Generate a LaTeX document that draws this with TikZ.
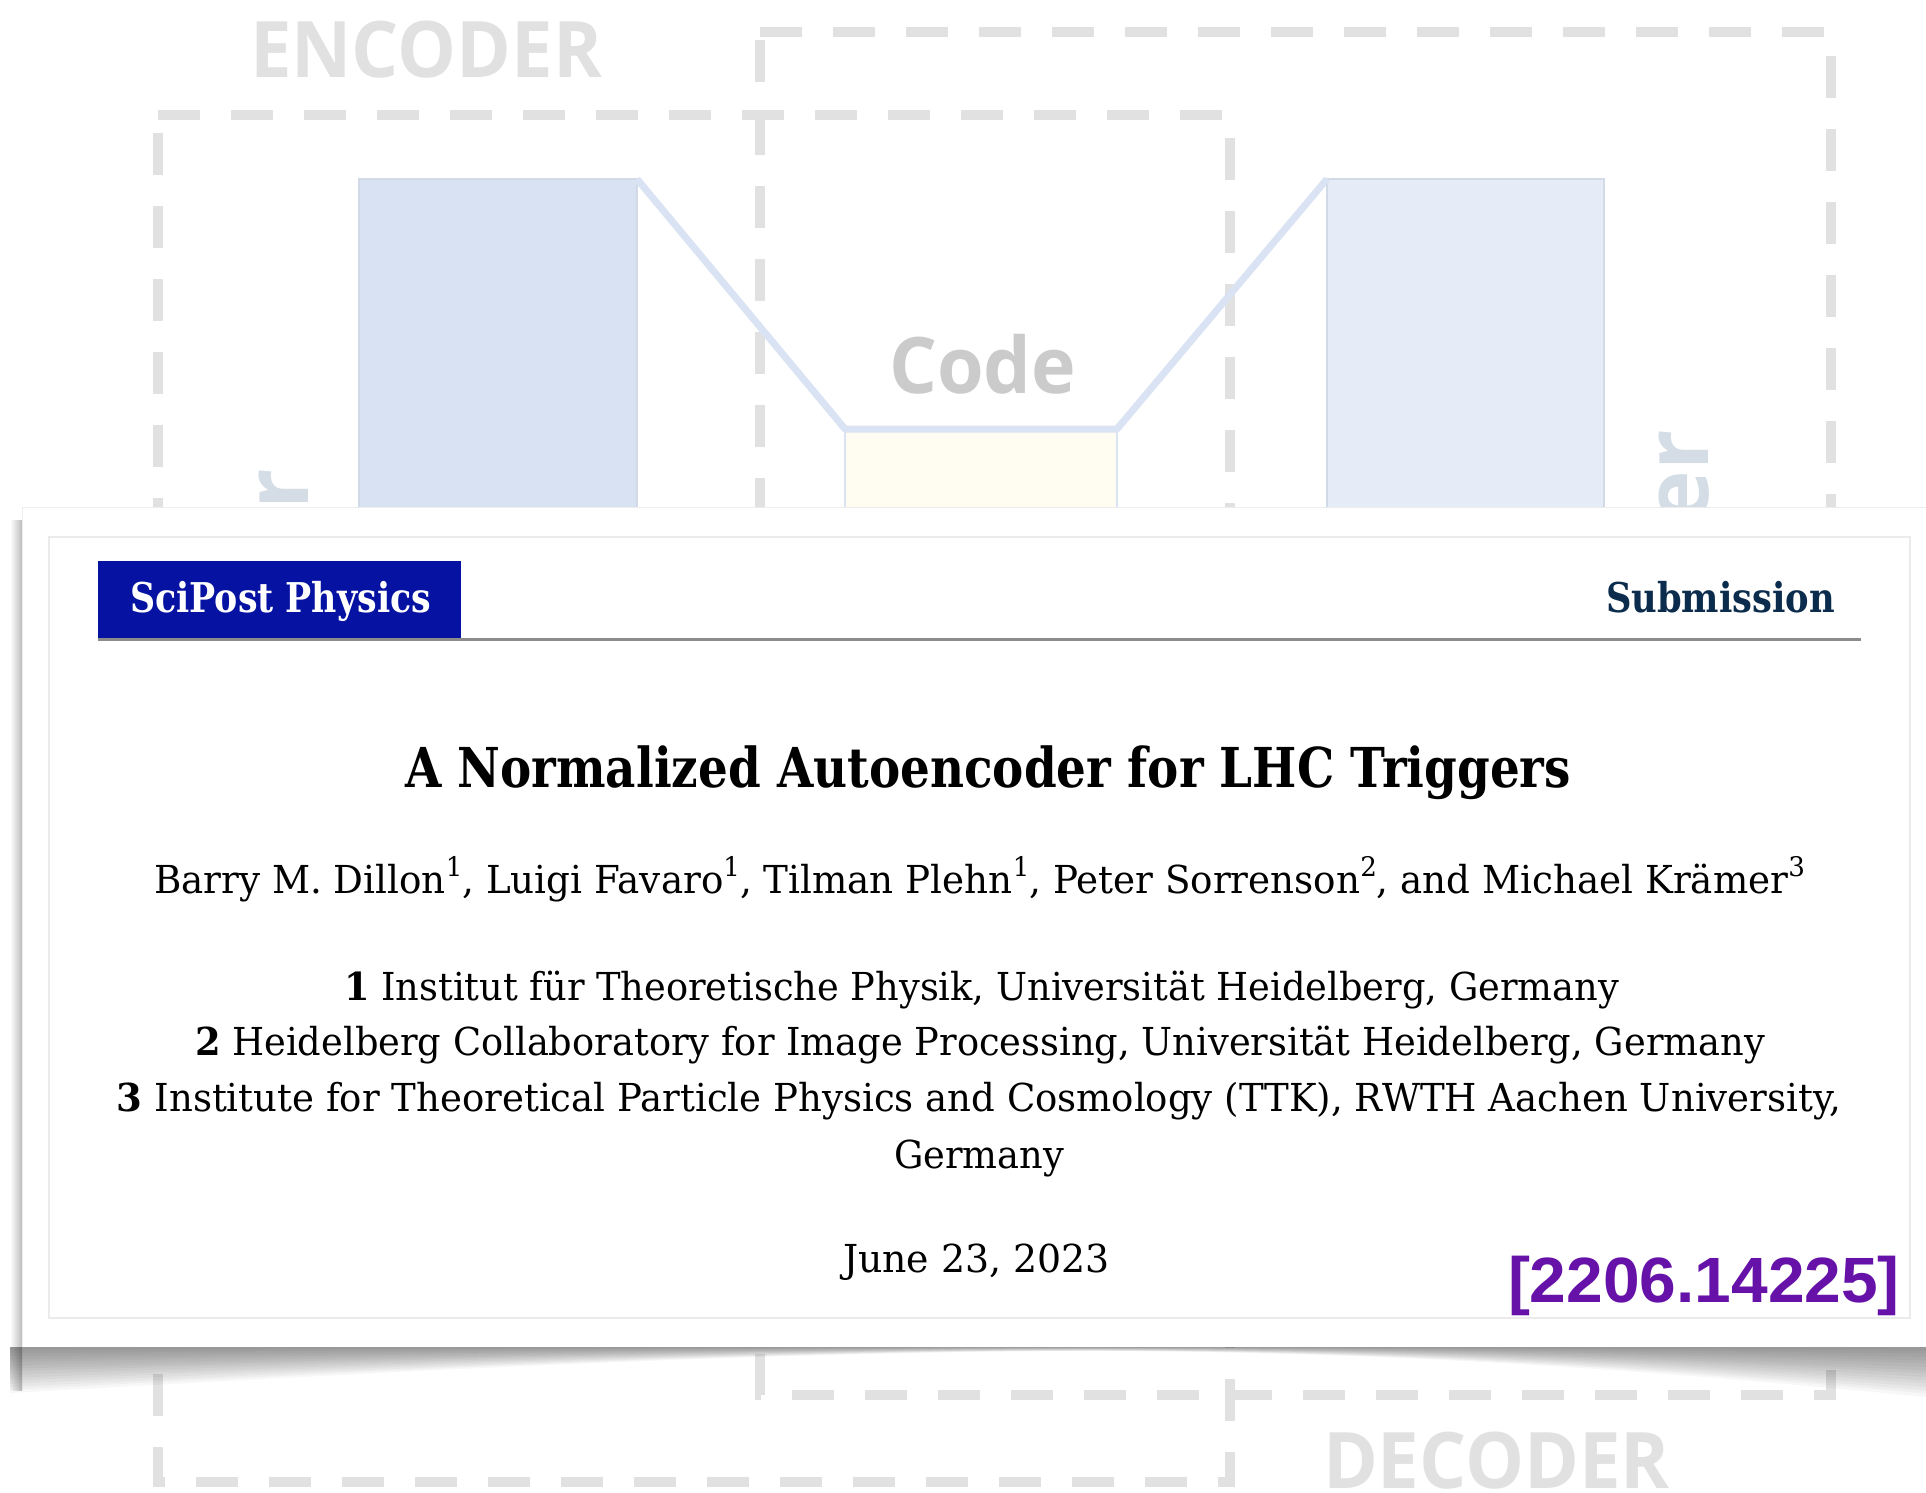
\documentclass[tikz,border=0pt]{standalone}
\usepackage{fontspec}
\usepackage{graphicx}
\setmainfont{DejaVu Serif}
\newfontfamily\opensans{Open Sans}
\newfontfamily\libsans{Liberation Sans}
\usetikzlibrary{fadings}
\definecolor{dashgray}{HTML}{E1E1E1}
\definecolor{rectblue}{HTML}{D9E2F2}
\definecolor{rectblueB}{HTML}{E6ECF7}
\definecolor{rectedge}{HTML}{D2DAE8}
\definecolor{linkblue}{HTML}{DAE3F3}
\definecolor{codefill}{HTML}{FFFCF2}
\definecolor{labelgray}{HTML}{E1E1E1}
\definecolor{codegray}{HTML}{CBCBCB}
\definecolor{rotgray}{HTML}{D4DCE6}
\definecolor{scipostblue}{HTML}{0612A2}
\definecolor{navy}{HTML}{0B2C4C}
\definecolor{arxivpurple}{HTML}{6612A8}
\definecolor{rulegray}{HTML}{8C8C8C}
\definecolor{framegray}{HTML}{EBEBEB}
\tikzfading[name=fadeends, left color=transparent!100, middle color=transparent!0, right color=transparent!100]
\newsavebox\fitbox
\newlength\fitlen
\newcommand\fitw[2]{\sbox\fitbox{#2}\setlength\fitlen{\wd\fitbox}\pgfmathsetmacro\fitfac{#1/\fitlen}\scalebox{\fitfac}[1]{\usebox\fitbox}}
\newcommand\affsup[1]{\raisebox{17pt}{\fontsize{27}{27}\selectfont #1}}
\tikzset{
  dashbox/.style={draw=dashgray, line width=10.5pt, dash pattern=on 42pt off 31pt},
  bigcap/.style={font=\opensans\bfseries\fontsize{78}{80}\selectfont, text=labelgray, inner sep=0pt, outer sep=0pt},
  rottext/.style={font=\opensans\bfseries\fontsize{89}{90}\selectfont, text=rotgray, inner sep=0pt, outer sep=0pt, rotate=90, anchor=base east},
  layerbox/.style={draw=rectedge, line width=2.5pt, inner sep=0pt, outer sep=0pt, anchor=north west},
  link/.style={draw=linkblue, line width=7pt, line join=round},
  paper/.style={inner sep=0pt, outer sep=0pt, font=\fontsize{38.5}{46}\selectfont, text=black},
  papertitle/.style={inner sep=0pt, outer sep=0pt, font=\bfseries\fontsize{55}{60}\selectfont, text=black},
  head/.style={inner sep=0pt, outer sep=0pt, font=\bfseries\fontsize{41}{46}\selectfont},
  shadowlayer/.style={fill=black, fill opacity=0.032, draw=none},
  corelayer/.style={fill=black, fill opacity=0.045, draw=none, path fading=fadeends}
}
\begin{document}
\begin{tikzpicture}[x=1pt,y=-1pt]
\useasboundingbox (0,0) rectangle (1926,1492);
\fill[white] (0,0) rectangle (1926,1492);

% ---------- background autoencoder sketch ----------
\draw[dashbox] (158,115) -- (1230,115) -- (1230,1482) -- (158,1482) -- cycle;
\draw[dashbox] (760,32) -- (1831,32) -- (1831,1395) -- (760,1395) -- cycle;

\node[layerbox, fill=rectblue, minimum width=278pt, minimum height=1060pt] (encL) at (359,179) {};
\node[layerbox, fill=rectblueB, minimum width=277pt, minimum height=1060pt] (decR) at (1327,179) {};
\node[layerbox, draw=linkblue, fill=codefill, minimum width=272pt, minimum height=560pt] (code) at (845,429) {};
\draw[link] (encL.north east) -- (code.north west) -- (code.north east) -- (decR.north west);

\node[bigcap, anchor=base west] (enclabel) at (250,77) {\fitw{352}{ENCODER}};
\node[bigcap, anchor=base west] (declabel) at (1323,1488) {\fitw{347}{DECODER}};
\node[bigcap, text=codegray, anchor=base west] (codelabel) at (889,393) {\fitw{187}{Code}};
\node[rottext] (encside) at (308,469) {r};
\node[rottext] (decside) at (1708,430) {er};

% ---------- shadow of the paper card ----------
\shade[left color=white, right color=black!26] (10,520) rectangle (22,1390);
\foreach \f in {0.07,0.13,0.2,0.27,0.33,0.4,0.47,0.53,0.6,0.67,0.73,0.8,0.87,0.93,1.0}{
  \path[shadowlayer]
    (10,1347) -- (1926,1347) -- (1926,{1347+50*\f})
    .. controls (1650,{1347+23*\f}) and (1400,{1347+5*\f}) .. (1100,{1347+4*\f})
    .. controls (750,{1347+4*\f}) and (350,{1347+27*\f}) .. (10,{1347+46*\f}) -- cycle;
}
\foreach \f in {0.3,0.38,0.46,0.54,0.62,0.7,0.78,0.86,0.93,1.0}{
  \path[corelayer]
    (200,1347) -- (1100,1347) -- (1100,{1347+2*\f})
    .. controls (850,{1347+3*\f}) and (550,{1347+13*\f}) .. (200,{1347+25*\f}) -- cycle;
  \path[corelayer]
    (1050,1347) -- (1820,1347) -- (1820,{1347+26*\f})
    .. controls (1600,{1347+15*\f}) and (1300,{1347+3*\f}) .. (1050,{1347+2*\f}) -- cycle;
}

% ---------- paper card ----------
\fill[white] (22,507) rectangle (1940,1347);
\draw[black!7, line width=1pt] (22,1347) -- (22,507) -- (1940,507);
\draw[framegray, line width=1.2pt] (49,537) rectangle (1910,1318);

\node[fill=scipostblue, inner sep=0pt, outer sep=0pt, anchor=north west, minimum width=363pt, minimum height=77pt] (banner) at (98,561) {};
\coordinate (ruleend) at (1861,639.5);
\draw[rulegray, line width=3.5pt] (banner.south west) ++(0,1.5) -- (ruleend);
\node[head, text=white, anchor=base west] (journal) at (130,612) {\fitw{301}{SciPost Physics}};
\node[head, text=navy, anchor=base east] (submission) at (1835,612) {\fitw{229}{Submission}};

\node[papertitle, anchor=base] (title) at (988,787) {\fitw{1166}{A Normalized Autoencoder for LHC Triggers}};
\node[paper, anchor=base] (authors) at (979.5,893) {\fitw{1651}{Barry M. Dillon\affsup{1}, Luigi Favaro\affsup{1}, Tilman Plehn\affsup{1}, Peter Sorrenson\affsup{2}, and Michael Kr\"amer\affsup{3}}};
\node[paper, anchor=base] (aff1) at (981.5,1000) {\fitw{1275}{\textbf{1} Institut f\"ur Theoretische Physik, Universit\"at Heidelberg, Germany}};
\node[paper, anchor=base] (aff2) at (980,1055) {\fitw{1570}{\textbf{2} Heidelberg Collaboratory for Image Processing, Universit\"at Heidelberg, Germany}};
\node[paper, anchor=base] (aff3) at (979,1111) {\fitw{1724}{\textbf{3} Institute for Theoretical Particle Physics and Cosmology (TTK), RWTH Aachen University,}};
\node[paper, anchor=base] (aff4) at (979,1168) {\fitw{170}{Germany}};
\node[paper, anchor=base] (date) at (976.5,1272) {\fitw{267}{June 23, 2023}};
\node[inner sep=0pt, outer sep=0pt, anchor=base west, font=\libsans\bfseries\fontsize{64}{66}\selectfont, text=arxivpurple] (arxiv) at (1508,1302) {\fitw{392}{[2206.14225]}};
\end{tikzpicture}
\end{document}
